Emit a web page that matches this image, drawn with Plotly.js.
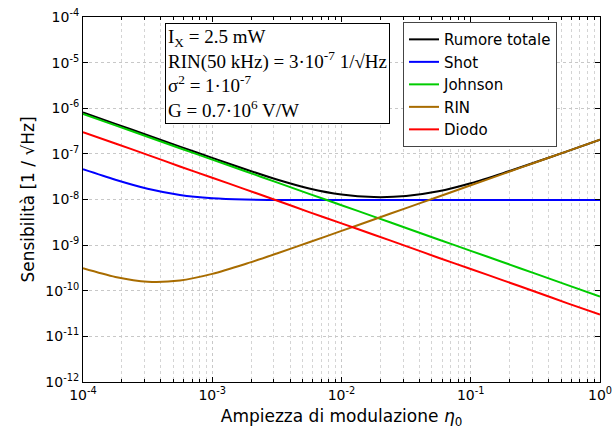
<!DOCTYPE html>
<html>
<head>
<meta charset="utf-8">
<script src="https://cdn.plot.ly/plotly-3.0.1.min.js"></script>
<style>html,body{margin:0;padding:0;background:#fff;}#chart{width:614px;height:439px;}</style>
</head>
<body>
<div id="chart"></div>
<script>
// Modulation amplitude eta0 (read at quarter-decade steps)
const eta = [1e-4, 1.78e-4, 3.16e-4, 5.62e-4, 1e-3, 1.78e-3, 3.16e-3, 5.62e-3, 1e-2, 1.78e-2, 3.16e-2, 5.62e-2, 1e-1, 1.78e-1, 3.16e-1, 5.62e-1, 1];
// Sensitivity series [1/sqrt(Hz)]
const totale  = [8.09e-7, 4.55e-7, 2.56e-7, 1.44e-7, 8.15e-8, 4.65e-8, 2.74e-8, 1.74e-8, 1.28e-8, 1.13e-8, 1.19e-8, 1.51e-8, 2.27e-8, 3.78e-8, 6.55e-8, 1.15e-7, 2.05e-7];
const shot    = [4.6e-8, 2.71e-8, 1.72e-8, 1.26e-8, 1.07e-8, 1.0e-8, 9.8e-9, 9.73e-9, 9.7e-9, 9.7e-9, 9.7e-9, 9.7e-9, 9.7e-9, 9.7e-9, 9.7e-9, 9.7e-9, 9.7e-9];
const johnson = [7.5e-7, 4.22e-7, 2.37e-7, 1.33e-7, 7.5e-8, 4.22e-8, 2.37e-8, 1.33e-8, 7.5e-9, 4.22e-9, 2.37e-9, 1.33e-9, 7.5e-10, 4.22e-10, 2.37e-10, 1.33e-10, 7.5e-11];
const rin     = [3.1e-10, 2.0e-10, 1.57e-10, 1.67e-10, 2.34e-10, 3.81e-10, 6.57e-10, 1.157e-9, 2.05e-9, 3.65e-9, 6.48e-9, 1.15e-8, 2.05e-8, 3.65e-8, 6.48e-8, 1.15e-7, 2.05e-7];
const diodo   = [3e-7, 1.69e-7, 9.5e-8, 5.3e-8, 3e-8, 1.69e-8, 9.5e-9, 5.3e-9, 3e-9, 1.69e-9, 9.5e-10, 5.3e-10, 3e-10, 1.69e-10, 9.5e-11, 5.3e-11, 3e-11];

const seriesNames = ['Rumore totale', 'Shot', 'Johnson', 'RIN', 'Diodo'];
const xTickVals = [1e-4, 1e-3, 1e-2, 1e-1, 1];
const xTickText = ['10<sup>-4</sup>', '10<sup>-3</sup>', '10<sup>-2</sup>', '10<sup>-1</sup>', '10<sup>0</sup>'];
const yTickVals = [1e-12, 1e-11, 1e-10, 1e-9, 1e-8, 1e-7, 1e-6, 1e-5, 1e-4];
const yTickText = ['10<sup>-12</sup>', '10<sup>-11</sup>', '10<sup>-10</sup>', '10<sup>-9</sup>', '10<sup>-8</sup>', '10<sup>-7</sup>', '10<sup>-6</sup>', '10<sup>-5</sup>', '10<sup>-4</sup>'];
const infoLines = ['I<sub>X</sub> = 2.5 mW', 'RIN(50 kHz) = 3·10<sup>-7</sup> 1/√Hz', 'σ<sup>2</sup> = 1·10<sup>-7</sup>', 'G = 0.7·10<sup>6</sup> V/W'];

const colors = ['#000000', '#0000ff', '#00cc00', '#a86c00', '#ff0000'];
const ys = [totale, shot, johnson, rin, diodo];
const traces = ys.map((y, i) => ({
  x: eta, y: y, name: seriesNames[i], type: 'scatter', mode: 'lines',
  line: {color: colors[i], width: 2, shape: 'spline', smoothing: 0.8}
}));

const gridStyle = {showgrid: true, gridcolor: '#c8c8c8', griddash: 'dot', gridwidth: 1};
const layout = {
  width: 614, height: 439,
  margin: {l: 83, r: 14, t: 17, b: 57},
  paper_bgcolor: '#fff', plot_bgcolor: '#fff',
  font: {family: 'DejaVu Sans, sans-serif', size: 14, color: '#000'},
  showlegend: true,
  legend: {x: 0.619, y: 0.986, xanchor: 'left', yanchor: 'top', bordercolor: '#444', borderwidth: 1,
           bgcolor: '#fff', font: {size: 15, family: 'DejaVu Sans, sans-serif'}, tracegroupgap: 0},
  xaxis: Object.assign({
    type: 'log', range: [-4, 0], tickmode: 'array', tickvals: xTickVals, ticktext: xTickText,
    ticks: 'inside', ticklen: 5, tickcolor: '#000', mirror: 'ticks', showline: true, linecolor: '#000', linewidth: 1,
    zeroline: false,
    minor: {dtick: 'D1', ticks: 'inside', ticklen: 3, tickcolor: '#000', showgrid: true, gridcolor: '#d4d4d4', griddash: 'dot'},
    title: {text: 'Ampiezza di modulazione <i>η</i><sub>0</sub>', font: {size: 17}, standoff: 8},
    tickfont: {size: 14}
  }, gridStyle),
  yaxis: Object.assign({
    type: 'log', range: [-12, -4], tickmode: 'array', tickvals: yTickVals, ticktext: yTickText,
    ticks: 'inside', ticklen: 5, tickcolor: '#000', mirror: 'ticks', showline: true, linecolor: '#000', linewidth: 1,
    zeroline: false,
    title: {text: 'Sensibilità [1 / √Hz]', font: {size: 17}, standoff: 6},
    tickfont: {size: 14}
  }, gridStyle),
  annotations: [{
    xref: 'paper', yref: 'paper', x: 0.159, y: 0.984, xanchor: 'left', yanchor: 'top',
    text: infoLines.join('<br>'), align: 'left', showarrow: false,
    font: {family: 'Liberation Serif, serif', size: 19, color: '#000'},
    bordercolor: '#000', borderwidth: 1, borderpad: 2, bgcolor: '#fff'
  }]
};
Plotly.newPlot('chart', traces, layout, {displayModeBar: false, staticPlot: true});
</script>
</body>
</html>
